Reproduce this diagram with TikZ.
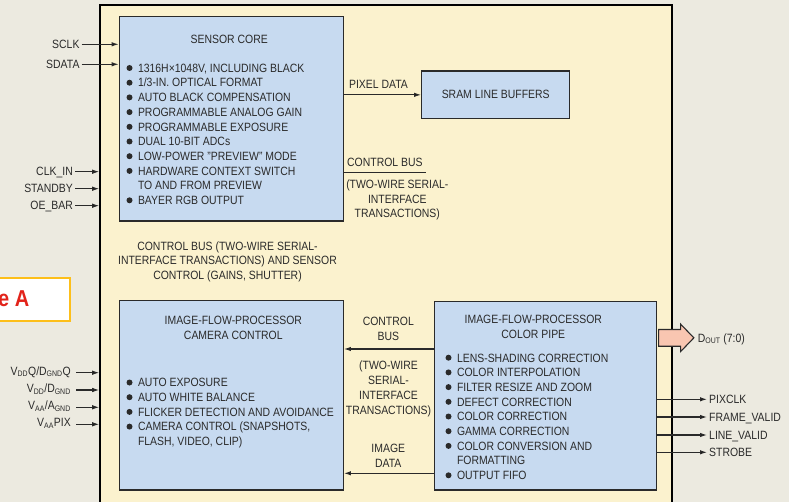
\documentclass[tikz,border=0pt]{standalone}
\usepackage{fontspec}
\setmainfont[FakeStretch=0.87]{Liberation Sans}
\usetikzlibrary{arrows.meta,positioning,shapes.arrows}
\definecolor{pagebg}{HTML}{ECEAE0}
\definecolor{chipfill}{HTML}{FBF2CE}
\definecolor{blockfill}{HTML}{C7DAF0}
\definecolor{ink}{HTML}{2A2A2A}
\definecolor{arrowfill}{HTML}{F9C6B1}
\definecolor{figorange}{HTML}{FDBF1A}
\definecolor{figred}{HTML}{E2231A}
\newcommand{\bl}{\makebox[11.5pt][l]{\tikz[baseline=-4.3pt]\fill (3pt,0) circle (3pt);}}
\newcommand{\blskip}{\hspace*{11.5pt}}
\begin{document}
\begin{tikzpicture}[
    x=1pt, y=-1pt,
    font=\fontsize{12}{14.7}\selectfont, text=ink,
    chip/.style={draw=black, line width=1.6pt, fill=chipfill},
    block/.style={draw=ink, line width=1.3pt, fill=blockfill},
    sig/.style={inner sep=2pt, text height=8.6pt, text depth=0pt},
    supply/.style={sig, text depth=4pt},
    list/.style={align=left, inner sep=0pt, anchor=base west},
    note/.style={align=center, inner sep=0pt},
    wire/.style={draw=ink, line width=1.1pt},
    >={Latex[length=7pt,width=4.5pt]}
    ]

    \useasboundingbox (0,0) rectangle (789,502);
    \fill[pagebg] (0,0) rectangle (789,502);

    \node[draw=figorange, line width=2.2pt, fill=white, minimum width=90pt, minimum height=43.3pt, anchor=north east, inner sep=0pt] (figbox) at (70.7,276.7) {};
    \node[anchor=base east, inner sep=0pt, text=figred, font=\fontsize{23}{23}\selectfont\bfseries] (figtitle) at (29.5,306.7) {e A};

    \node[chip, minimum width=572pt, minimum height=510pt] (chip) at (386,260) {};

    \node[block, minimum width=224pt, minimum height=204.3pt] (core) at (231.3,118.85) {};
    \node[block, minimum width=148pt, minimum height=47.7pt] (sram) at (495.7,94.85) {SRAM LINE BUFFERS};
    \node[block, minimum width=224pt, minimum height=189.3pt] (cam) at (231.3,395.35) {};
    \node[block, minimum width=222pt, minimum height=188.7pt] (pipe) at (545.7,395.65) {};

    \node[note] (coretitle) at (229.2,39.7) {SENSOR CORE};
    \node[list] (corelist) at (126.3,204.6) {\bl 1316H×1048V, INCLUDING BLACK\\
      \bl 1/3-IN. OPTICAL FORMAT\\
      \bl AUTO BLACK COMPENSATION\\
      \bl PROGRAMMABLE ANALOG GAIN\\
      \bl PROGRAMMABLE EXPOSURE\\
      \bl DUAL 10-BIT ADCs\\
      \bl LOW-POWER "PREVIEW" MODE\\
      \bl HARDWARE CONTEXT SWITCH\\
      \blskip TO AND FROM PREVIEW\\
      \bl BAYER RGB OUTPUT};

    \node[note] (camtitle) at (233.3,328.2) {IMAGE-FLOW-PROCESSOR\\CAMERA CONTROL};
    \node[list] (camlist) at (126.3,445.6) {\bl AUTO EXPOSURE\\
      \bl AUTO WHITE BALANCE\\
      \bl FLICKER DETECTION AND AVOIDANCE\\
      \bl CAMERA CONTROL (SNAPSHOTS,\\
      \blskip FLASH, VIDEO, CLIP)};

    \node[note] (pipetitle) at (533.3,327.2) {IMAGE-FLOW-PROCESSOR\\COLOR PIPE};
    \node[list] (pipelist) at (445.3,479.6) {\bl LENS-SHADING CORRECTION\\
      \bl COLOR INTERPOLATION\\
      \bl FILTER RESIZE AND ZOOM\\
      \bl DEFECT CORRECTION\\
      \bl COLOR CORRECTION\\
      \bl GAMMA CORRECTION\\
      \bl COLOR CONVERSION AND\\
      \blskip FORMATTING\\
      \bl OUTPUT FIFO};

    \node[note] (pixlbl) at (378.5,84.3) {PIXEL DATA};
    \draw[wire,->] (core.east |- sram.west) -- (sram.west);

    \node[note, anchor=west] (cbuslbl) at (347,162.7) {CONTROL BUS};
    \coordinate (cbend) at (426,172.7);
    \draw[wire] (core.east |- cbend) -- (cbend);
    \node[note] (cbusnote) at (397.3,200) {(TWO-WIRE SERIAL-\\INTERFACE\\TRANSACTIONS)};

    \node[note] (sensctl) at (227.5,261.8) {CONTROL BUS (TWO-WIRE SERIAL-\\INTERFACE TRANSACTIONS) AND SENSOR\\CONTROL (GAINS, SHUTTER)};

    \node[note] (cbus2lbl) at (388.3,329) {CONTROL\\BUS};
    \coordinate (cbarrow) at (390,349);
    \draw[wire,->] (pipe.west |- cbarrow) -- (cam.east |- cbarrow);
    \node[note] (cbus2note) at (388.5,388.9) {(TWO-WIRE\\SERIAL-\\INTERFACE\\TRANSACTIONS)};
    \node[note] (imglbl) at (388.3,456) {IMAGE\\DATA};
    \coordinate (imgarrow) at (390,473.3);
    \draw[wire,->] (pipe.west |- imgarrow) -- (cam.east |- imgarrow);

    \node[sig, anchor=east] (sclk) at (81.7,44.3) {SCLK};
    \node[sig, anchor=east] (sdata) at (81.7,64.3) {SDATA};
    \draw[wire,->] (sclk.east) -- (core.west |- sclk.east);
    \draw[wire,->] (sdata.east) -- (core.west |- sdata.east);

    \node[sig, anchor=east] (clkin) at (75,171.7) {CLK\_IN};
    \node[sig, anchor=east] (standby) at (75,188.7) {STANDBY};
    \node[sig, anchor=east] (oebar) at (75,205.7) {OE\_BAR};
    \draw[wire,->] (clkin.east) -- (chip.west |- clkin.east);
    \draw[wire,->] (standby.east) -- (chip.west |- standby.east);
    \draw[wire,->] (oebar.east) -- (chip.west |- oebar.east);

    \node[supply, anchor=east] (vddq) at (73,372.7) {V\textsubscript{DD}Q/D\textsubscript{GND}Q};
    \node[supply, anchor=east] (vdd) at (73,390) {V\textsubscript{DD}/D\textsubscript{GND}};
    \node[supply, anchor=east] (vaa) at (73,407.3) {V\textsubscript{AA}/A\textsubscript{GND}};
    \node[supply, anchor=east] (vaapix) at (73,424.3) {V\textsubscript{AA}PIX};
    \draw[wire,->,shorten <=3pt] (vddq.east) -- (chip.west |- vddq.east);
    \draw[wire,->,shorten <=3pt] (vdd.east) -- (chip.west |- vdd.east);
    \draw[wire,->,shorten <=3pt] (vaa.east) -- (chip.west |- vaa.east);
    \draw[wire,->,shorten <=3pt] (vaapix.east) -- (chip.west |- vaapix.east);

    \node[single arrow, draw=ink, line width=1.1pt, fill=arrowfill, minimum height=35.3pt, inner xsep=0pt, inner ysep=7.85pt, text height=0pt, text depth=0pt, single arrow head extend=5.35pt, single arrow tip angle=92, anchor=tail] (dout) at (658,337.85) {};
    \node[sig, right=1pt of dout] (doutlbl) {D\textsubscript{OUT} (7:0)};

    \node[sig, anchor=west] (pixclk) at (707,399.3) {PIXCLK};
    \node[sig, anchor=west] (fvalid) at (707,417) {FRAME\_VALID};
    \node[sig, anchor=west] (lvalid) at (707,435) {LINE\_VALID};
    \node[sig, anchor=west] (strobe) at (707,452.3) {STROBE};
    \draw[wire,->] (pipe.east |- pixclk.west) -- (pixclk.west);
    \draw[wire,->] (pipe.east |- fvalid.west) -- (fvalid.west);
    \draw[wire,->] (pipe.east |- lvalid.west) -- (lvalid.west);
    \draw[wire,->] (pipe.east |- strobe.west) -- (strobe.west);

  \end{tikzpicture}
\end{document}
